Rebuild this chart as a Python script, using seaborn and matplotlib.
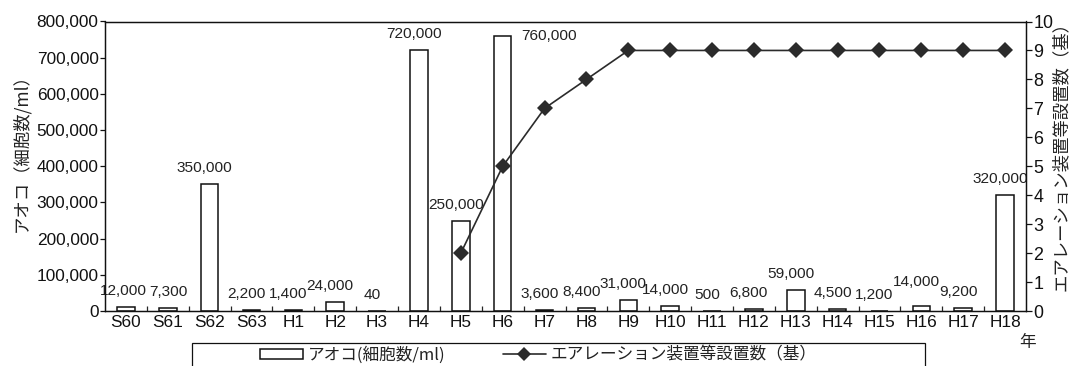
import numpy as np
import pandas as pd
import matplotlib
matplotlib.use("Agg")
import matplotlib.pyplot as plt
from matplotlib import font_manager
from matplotlib.patches import Rectangle
from matplotlib.lines import Line2D
from matplotlib.ticker import FuncFormatter
import seaborn as sns

# ---- data -------------------------------------------------------------
categories = ["S60", "S61", "S62", "S63", "H1", "H2", "H3", "H4", "H5", "H6",
              "H7", "H8", "H9", "H10", "H11", "H12", "H13", "H14", "H15",
              "H16", "H17", "H18"]
aoko_cells = [12000, 7300, 350000, 2200, 1400, 24000, 40, 720000, 250000,
              760000, 3600, 8400, 31000, 14000, 500, 6800, 59000, 4500, 1200,
              14000, 9200, 320000]
aeration_units = [np.nan, np.nan, np.nan, np.nan, np.nan, np.nan, np.nan,
                  np.nan, 2, 5, 7, 8, 9, 9, 9, 9, 9, 9, 9, 9, 9, 9]
left_ticks = [0, 100000, 200000, 300000, 400000, 500000, 600000, 700000, 800000]
right_ticks = list(range(0, 11))

bar_label = "アオコ(細胞数/ml)"
line_label = "エアレーション装置等設置数（基）"
left_title = "アオコ（細胞数/ml）"
right_title = "エアレーション装置等設置数（基）"
year_unit = "年"

# ---- fonts --------------------------------------------------------------
sns.set_theme(style="white")
available = {f.name for f in font_manager.fontManager.ttflist}
narrow = "Liberation Sans Narrow" in available
NUM_FONT = "Liberation Sans Narrow" if narrow else "Liberation Sans"
NUM_SCALE = 1.0 if narrow else 0.92
CJK = ["Noto Sans CJK JP", "DejaVu Sans"]
plt.rcParams["font.family"] = [NUM_FONT, "Noto Sans CJK JP", "DejaVu Sans"]
plt.rcParams["text.color"] = "#222222"

W, H = 1071, 366
fig = plt.figure(figsize=(W / 100, H / 100), dpi=100)
fig.patch.set_facecolor("white")

def fx(px):
    return px / W

def fy(py):
    return 1 - py / H

ax_left, ax_right, ax_top, ax_bottom = 105, 1026, 21.5, 311
ax = fig.add_axes([fx(ax_left), fy(ax_bottom), fx(ax_right - ax_left),
                   (ax_bottom - ax_top) / H])

df = pd.DataFrame({"year": categories, "cells": aoko_cells,
                   "units": aeration_units,
                   "pos": np.arange(len(categories))})

# ---- bars ---------------------------------------------------------------
sns.barplot(data=df, x="year", y="cells", order=categories, width=0.42,
            color="white", edgecolor="#111111", linewidth=1.1, saturation=1,
            errorbar=None, ax=ax)
ax.set_xlim(-0.5, len(categories) - 0.5)
ax.set_ylim(0, 800000)
ax.set_yticks(left_ticks)
ax.yaxis.set_major_formatter(FuncFormatter(lambda v, p: f"{int(v):,}"))
ax.set_xlabel("")
ax.set_ylabel("")

for s in ax.spines.values():
    s.set_color("#111111")
    s.set_linewidth(0.9)

ax.tick_params(axis="y", which="major", direction="out", length=3.6,
               width=0.9, pad=1, labelsize=13.5 * NUM_SCALE, colors="#111111")
ax.tick_params(axis="x", which="major", length=0, pad=3,
               labelsize=13.5 * NUM_SCALE, colors="#111111")
ax.set_xticks(np.arange(0.5, len(categories) - 1, 1), minor=True)
ax.tick_params(axis="x", which="minor", direction="in", length=3.6,
               width=0.9, bottom=True)

# value labels above bars (offsets in pixels: dx, dy, alignment)
nudges_px = {"S60": (-3, 16, "center"), "S61": (1, 16, "center"),
             "H6": (10, 0, "left"), "H16": (-5, 24, "center")}
px2pt = 0.72
for i, (cat, v) in enumerate(zip(categories, aoko_cells)):
    dx, dy, ha = nudges_px.get(cat, (-5, 16, "center"))
    x = i + 0.21 if cat == "H6" else i
    ax.annotate(f"{v:,}", xy=(x, v), xytext=(dx * px2pt, dy * px2pt),
                textcoords="offset points", ha=ha, va="center",
                fontsize=12 * NUM_SCALE, color="#222222",
                annotation_clip=False)

# ---- line on the secondary axis ---------------------------------------
ax2 = ax.twinx()
line_df = df.dropna(subset=["units"])
sns.lineplot(data=line_df, x="pos", y="units", marker="D", markersize=8.6,
             color="#2b2b2b", linewidth=1.2, markeredgewidth=0,
             ax=ax2, legend=False)
ax2.set_xlim(-0.5, len(categories) - 0.5)
ax2.set_ylim(0, 10)
ax2.set_yticks(right_ticks)
ax2.set_xlabel("")
ax2.set_ylabel("")
ax2.tick_params(axis="y", direction="out", length=4.2, width=0.9, pad=1,
                labelsize=14 * NUM_SCALE, colors="#111111")
for s in ax2.spines.values():
    s.set_color("#111111")
    s.set_linewidth(0.9)

# ---- axis titles --------------------------------------------------------
fig.text(fx(21), fy(148), left_title, rotation=90, ha="center", va="center",
         fontsize=12.5, family=CJK, color="#222222")
fig.text(fx(1061), fy(152), right_title, rotation=90, ha="center",
         va="center", fontsize=12.5, family=CJK, color="#222222")
fig.text(fx(1028), fy(342), year_unit, ha="center", va="center",
         fontsize=12, family=CJK, color="#222222")

# ---- legend ---------------------------------------------------------------
fig.patches.append(Rectangle((fx(192), fy(380)), fx(925 - 192),
                             (380 - 343) / H, transform=fig.transFigure,
                             facecolor="white", edgecolor="#111111",
                             linewidth=0.9, clip_on=False))
handles = [
    Rectangle((0, 0), 1, 1, facecolor="white", edgecolor="#111111",
              linewidth=1.1),
    Line2D([0], [0], color="#2b2b2b", linewidth=1.2, marker="D",
           markersize=7.5, markeredgewidth=0),
]
fig.legend(handles, [bar_label, line_label], loc="center left",
           bbox_to_anchor=(fx(260), fy(355)), ncol=2, frameon=False,
           borderpad=0, borderaxespad=0, handlelength=2.6,
           handleheight=0.6, handletextpad=0.3, columnspacing=3.4,
           prop={"family": CJK, "size": 12})

fig.savefig("out.png", dpi=100, facecolor="white")
